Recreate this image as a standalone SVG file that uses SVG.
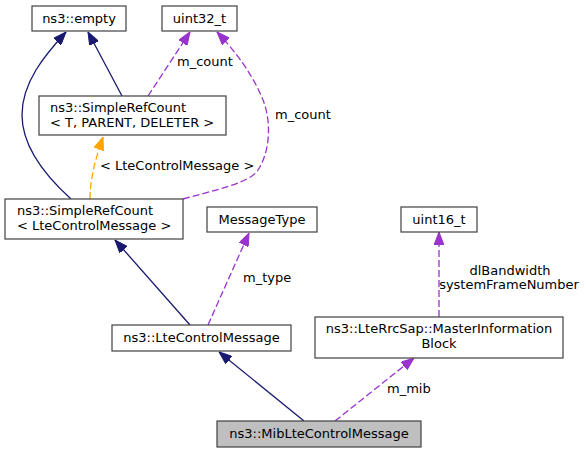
<svg xmlns="http://www.w3.org/2000/svg" width="586" height="453" viewBox="0 0 586 453">
<style>
  text { font-family: "DejaVu Sans", "Liberation Sans", sans-serif; font-size: 13px; fill: #000; }
  .box { fill: #ffffff; stroke: #404040; stroke-width: 1.2; }
  .cur { fill: #bfbfbf; stroke: #404040; stroke-width: 1.2; }
  .inh { fill: none; stroke: #191970; stroke-width: 1.3; }
  .use { fill: none; stroke: #9a32cd; stroke-width: 1.3; stroke-dasharray: 7,3; }
  .tpl { fill: none; stroke: #ffa500; stroke-width: 1.3; stroke-dasharray: 7,3; }
  .mid { text-anchor: middle; }
</style>
<defs>
  <marker id="aInh" markerUnits="userSpaceOnUse" viewBox="0 0 13 10" refX="13" refY="5" markerWidth="13" markerHeight="10" orient="auto">
    <path d="M0,0 L13,5 L0,10 z" fill="#191970" stroke="#191970"/>
  </marker>
  <marker id="aUse" markerUnits="userSpaceOnUse" viewBox="0 0 13 10" refX="13" refY="5" markerWidth="13" markerHeight="10" orient="auto">
    <path d="M0,0 L13,5 L0,10 z" fill="#9a32cd" stroke="#9a32cd"/>
  </marker>
  <marker id="aTpl" markerUnits="userSpaceOnUse" viewBox="0 0 13 10" refX="13" refY="5" markerWidth="13" markerHeight="10" orient="auto">
    <path d="M0,0 L13,5 L0,10 z" fill="#ffa500" stroke="#ffa500"/>
  </marker>
</defs>

<g id="connectors">
  <path class="inh" d="M71,199 C 50,180 22,150 22,115 C 22,82 45,55 66,32" marker-end="url(#aInh)"/>
  <path class="inh" d="M122,96 L 88,32" marker-end="url(#aInh)"/>
  <path class="use" d="M148,96 L 190,32" marker-end="url(#aUse)"/>
  <text x="177" y="66">m_count</text>
  <path class="use" d="M183,199 C 215,190 250,183 258,170 C 271,150 271,120 263,100 C 253,75 236,52 217,32" marker-end="url(#aUse)"/>
  <text x="275" y="119">m_count</text>
  <path class="tpl" d="M90,199 C 90,180 95,160 103,137" marker-end="url(#aTpl)"/>
  <text x="100" y="170">&lt; LteControlMessage &gt;</text>
  <path class="inh" d="M190,325 L 115,240" marker-end="url(#aInh)"/>
  <path class="use" d="M208,325 L 249,233" marker-end="url(#aUse)"/>
  <text x="243" y="282">m_type</text>
  <path class="use" d="M439,317 L 439,232" marker-end="url(#aUse)"/>
  <text class="mid" x="510" y="275">dlBandwidth</text>
  <text class="mid" x="509" y="289">systemFrameNumber</text>
  <path class="inh" d="M304,421 L 219,352" marker-end="url(#aInh)"/>
  <path class="use" d="M335,421 L 414,358" marker-end="url(#aUse)"/>
  <text x="387" y="393">m_mib</text>
</g>

<g id="empty">
  <rect class="box" x="32" y="6" width="94" height="25"/>
  <text class="mid" x="79" y="23">ns3::empty</text>
</g>
<g id="uint32">
  <rect class="box" x="162" y="6" width="75" height="25"/>
  <text class="mid" x="199.5" y="23">uint32_t</text>
</g>
<g id="srcTPD">
  <rect class="box" x="39" y="96" width="187" height="39"/>
  <text x="50" y="112">ns3::SimpleRefCount</text>
  <text x="50" y="127">&lt; T, PARENT, DELETER &gt;</text>
</g>
<g id="srcLte">
  <rect class="box" x="5" y="199" width="178" height="40"/>
  <text x="17" y="215">ns3::SimpleRefCount</text>
  <text x="17" y="230">&lt; LteControlMessage &gt;</text>
</g>
<g id="messageType">
  <rect class="box" x="207" y="207" width="110" height="25"/>
  <text class="mid" x="262" y="224">MessageType</text>
</g>
<g id="uint16">
  <rect class="box" x="401" y="207" width="76" height="25"/>
  <text class="mid" x="439" y="224">uint16_t</text>
</g>
<g id="lteControlMessage">
  <rect class="box" x="112" y="325" width="179" height="26"/>
  <text class="mid" x="201.5" y="342">ns3::LteControlMessage</text>
</g>
<g id="mib">
  <rect class="box" x="315" y="317" width="248" height="41"/>
  <text class="mid" x="439" y="333">ns3::LteRrcSap::MasterInformation</text>
  <text class="mid" x="439" y="348">Block</text>
</g>
<g id="mibLteControlMessage">
  <rect class="cur" x="217" y="421" width="204" height="26"/>
  <text class="mid" x="319" y="438">ns3::MibLteControlMessage</text>
</g>
</svg>
